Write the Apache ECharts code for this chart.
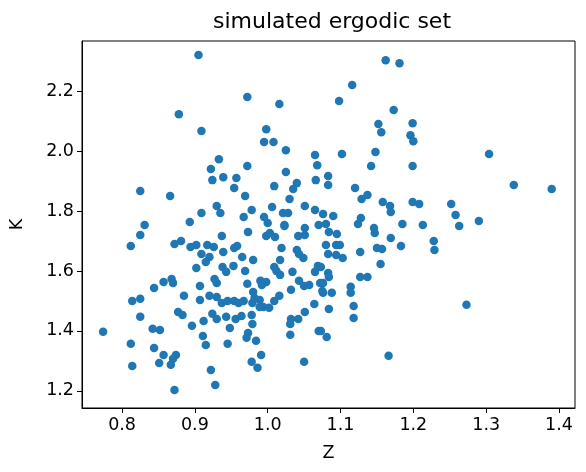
<!DOCTYPE html><html><head><meta charset="utf-8"><script src="https://cdn.jsdelivr.net/npm/echarts@6/dist/echarts.min.js"></script></head><body style="margin:0"><div id="c" style="width:586px;height:472px"></div><script>
const zVals=[0.905,0.972,1.016,0.878,0.909,0.998,0.995,1.008,1.025,1.065,1.068,0.933,0.922,0.972,0.924,0.939,0.957,0.954,1.025,1.04,1.035,1.009,1.066,1.083,1.083,0.825,0.866,0.969,1.03,0.93,0.935,0.909,0.893,0.831,0.978,0.967,1.006,1.021,1.028,0.995,1.051,1.065,1.076,1.0,1.023,1.051,1.07,
1.162,1.181,1.116,1.098,1.173,1.152,1.156,1.199,1.196,1.2,1.102,1.304,1.148,1.142,1.199,1.338,1.39,1.12,1.129,1.137,1.158,1.168,1.169,1.199,1.208,1.252,1.258,1.263,1.29,1.09,1.128,1.124,1.146,1.185,1.213,1.08,
1.147,1.169,1.228,1.229,1.183,1.15,1.157,1.127,1.155,1.127,1.137,1.114,1.114,1.118,1.118,1.273,1.166,1.088,1.084,1.081,1.073,1.073,1.083,1.084,1.076,1.076,1.08,1.094,1.099,1.083,1.094,1.103,1.084,1.095,
0.825,0.812,0.872,0.881,0.937,0.973,0.894,0.902,0.917,0.926,0.909,0.92,0.915,0.939,0.954,0.958,0.965,0.98,0.902,0.938,0.943,0.953,0.969,0.998,1.003,1.01,1.023,1.019,1.017,1.009,1.012,1.017,1.034,1.04,1.043,1.049,1.042,1.051,1.069,1.065,1.043,1.05,1.057,1.072,1.075,1.032,1.016,1.009,1.002,0.994,0.99,0.998,0.992,0.972,0.98,0.982,0.989,0.979,0.989,1.064,1.051,1.032,1.042,1.031,1.031,1.07,1.05,
0.844,0.857,0.868,0.87,0.907,0.885,0.907,0.92,0.93,0.937,0.945,0.954,0.96,0.967,0.814,0.825,0.825,0.877,0.883,0.896,0.912,0.924,0.93,0.943,0.956,0.964,0.978,0.979,0.948,0.973,0.971,0.984,0.991,0.978,0.986,0.911,0.915,0.945,0.922,0.928,0.872,0.774,0.812,0.814,0.842,0.852,0.844,0.857,0.851,0.867,0.874,0.87,0.927,0.93];
const kVals=[2.32,2.18,2.157,2.123,2.067,2.073,2.03,2.03,2.003,1.987,1.953,1.973,1.94,1.95,1.903,1.913,1.91,1.877,1.93,1.893,1.873,1.883,1.903,1.917,1.887,1.867,1.85,1.85,1.84,1.817,1.793,1.793,1.763,1.753,1.803,1.78,1.813,1.793,1.793,1.78,1.817,1.803,1.79,1.76,1.753,1.743,1.753,
2.303,2.293,2.22,2.167,2.137,2.09,2.063,2.093,2.053,2.033,1.99,1.99,1.997,1.95,1.95,1.887,1.873,1.877,1.84,1.853,1.83,1.817,1.797,1.83,1.823,1.823,1.787,1.75,1.767,1.783,1.777,1.757,1.743,1.757,1.753,1.757,
1.727,1.71,1.7,1.67,1.683,1.677,1.673,1.663,1.623,1.58,1.58,1.547,1.527,1.483,1.443,1.487,1.317,1.527,1.473,1.38,1.4,1.613,1.593,1.58,1.56,1.527,1.687,1.687,1.687,1.657,1.653,1.643,1.73,1.723,
1.72,1.683,1.69,1.7,1.717,1.73,1.68,1.687,1.687,1.68,1.657,1.647,1.63,1.663,1.677,1.683,1.647,1.637,1.61,1.613,1.597,1.617,1.6,1.717,1.727,1.713,1.75,1.677,1.637,1.613,1.6,1.587,1.597,1.67,1.657,1.643,1.717,1.72,1.617,1.597,1.567,1.55,1.553,1.56,1.533,1.537,1.517,1.5,1.477,1.48,1.567,1.563,1.553,1.557,1.53,1.51,1.503,1.493,1.48,1.49,1.463,1.44,1.44,1.423,1.387,1.4,1.297,
1.543,1.563,1.573,1.56,1.55,1.517,1.503,1.517,1.513,1.493,1.5,1.5,1.493,1.5,1.5,1.507,1.447,1.463,1.453,1.417,1.433,1.457,1.44,1.447,1.44,1.45,1.453,1.423,1.41,1.393,1.377,1.367,1.32,1.297,1.277,1.383,1.353,1.357,1.27,1.22,1.203,1.397,1.357,1.283,1.407,1.403,1.343,1.32,1.293,1.287,1.32,1.307,1.573,1.56];
const xTicks=[0.8,0.9,1.0,1.1,1.2,1.3,1.4];
const yTicks=[1.2,1.4,1.6,1.8,2.0,2.2];
const data=zVals.map((z,i)=>[z,kVals[i]]);
const ch=echarts.init(document.getElementById('c'));
const lab={color:'#000',fontSize:17.5,fontFamily:'DejaVu Sans'};
ch.setOption({animation:false,
title:{text:'simulated ergodic set',left:327,top:6,textAlign:'center',textStyle:{fontSize:22,fontWeight:'normal',color:'#000',fontFamily:'DejaVu Sans'}},
grid:{left:80,right:11,top:41,bottom:64,show:true,borderColor:'#000',borderWidth:1},
xAxis:{type:'value',min:0.745,max:1.422,name:'Z',nameLocation:'middle',nameGap:36,nameTextStyle:lab,
 axisLine:{show:true,lineStyle:{color:'#000'}},splitLine:{show:false},
 axisTick:{show:true,customValues:xTicks,length:5,inside:false,lineStyle:{color:'#000'}},
 axisLabel:{customValues:xTicks,formatter:v=>v.toFixed(1),...lab,margin:8}},
yAxis:{type:'value',min:1.143,max:2.367,name:'K',nameLocation:'middle',nameGap:56,nameTextStyle:lab,
 axisLine:{show:true,lineStyle:{color:'#000'}},splitLine:{show:false},
 axisTick:{show:true,customValues:yTicks,length:5,lineStyle:{color:'#000'}},
 axisLabel:{customValues:yTicks,formatter:v=>v.toFixed(1),...lab,margin:8}},
series:[{type:'scatter',data:data,symbolSize:8.5,itemStyle:{color:'#1f77b4',opacity:1}}]});
</script></body></html>
